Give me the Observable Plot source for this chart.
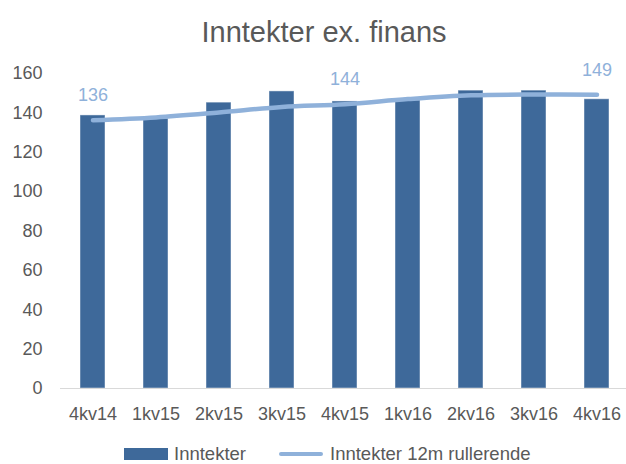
<!DOCTYPE html>
<html>
<head>
<meta charset="utf-8">
<script src="https://cdn.jsdelivr.net/npm/d3@7"></script>
<script src="https://cdn.jsdelivr.net/npm/@observablehq/plot@0.6"></script>
<style>
  html, body { margin: 0; padding: 0; background: #fff; }
  body { width: 626px; height: 464px; overflow: hidden; font-family: "Liberation Sans", Arial, sans-serif; }
  #title { box-sizing: border-box; height: 50px; padding-top: 15px; line-height: 34px; font-size: 29px; color: #595959; text-align: center; padding-left: 22px; white-space: nowrap; }
  #legend { position: relative; height: 32px; font-size: 18.5px; color: #595959; }
  .item { position: absolute; top: 13px; display: flex; align-items: center; height: 18px; line-height: 18px; }
  .sw-bar { width: 44px; height: 12px; background: #3E699A; margin-right: 6px; }
  .sw-line { width: 44px; height: 4.5px; border-radius: 3px; background: #8FB1DA; margin-right: 7px; }
</style>
</head>
<body>
<div id="title">Inntekter ex. finans</div>
<div id="chart"></div>
<div id="legend">
  <div class="item" style="left:124px"><span class="sw-bar"></span><span>Inntekter</span></div>
  <div class="item" style="left:279px"><span class="sw-line"></span><span>Inntekter 12m rullerende</span></div>
</div>
<script>
const categories = ["4kv14", "1kv15", "2kv15", "3kv15", "4kv15", "1kv16", "2kv16", "3kv16", "4kv16"];
const inntekter = [138.7, 137, 145.2, 150.9, 145.8, 146.3, 151.3, 151.3, 146.9];
const rullerende = [136.3, 137.7, 140.2, 143, 144.4, 147, 148.9, 149.3, 149.2];
const labelIndices = [0, 4, 8];
const yTicks = [0, 20, 40, 60, 80, 100, 120, 140, 160];

const data = categories.map((c, i) => ({cat: c, inn: inntekter[i], rul: rullerende[i]}));
const labelled = labelIndices.map(i => data[i]);

const chart = Plot.plot({
  width: 626,
  height: 382,
  marginLeft: 60,
  marginRight: -3,
  marginTop: 23,
  marginBottom: 44,
  style: {fontFamily: "'Liberation Sans', Arial, sans-serif", fontSize: "18px", color: "#595959", background: "#fff", overflow: "visible"},
  x: {domain: categories, paddingInner: 0.6, paddingOuter: 0.3, label: null, tickSize: 0, tickPadding: 19},
  y: {domain: [0, 160], ticks: yTicks, label: null, tickSize: 0, tickPadding: 18},
  marks: [
    Plot.barY(data, {x: "cat", y: "inn", fill: "#3E699A", stroke: "#ffffff", strokeOpacity: 0.45, strokeWidth: 1}),
    Plot.ruleY([0], {stroke: "#d9d9d9", strokeWidth: 1}),
    Plot.line(data, {x: "cat", y: "rul", curve: "catmull-rom", stroke: "#8FB1DA", strokeWidth: 4.5, strokeLinecap: "round"}),
    Plot.text(labelled, {x: "cat", y: "rul", text: d => d3.format(".0f")(d.rul), dy: -25, fill: "#8FB1DA", fontSize: 18})
  ]
});
document.getElementById("chart").appendChild(chart);
</script>
</body>
</html>
